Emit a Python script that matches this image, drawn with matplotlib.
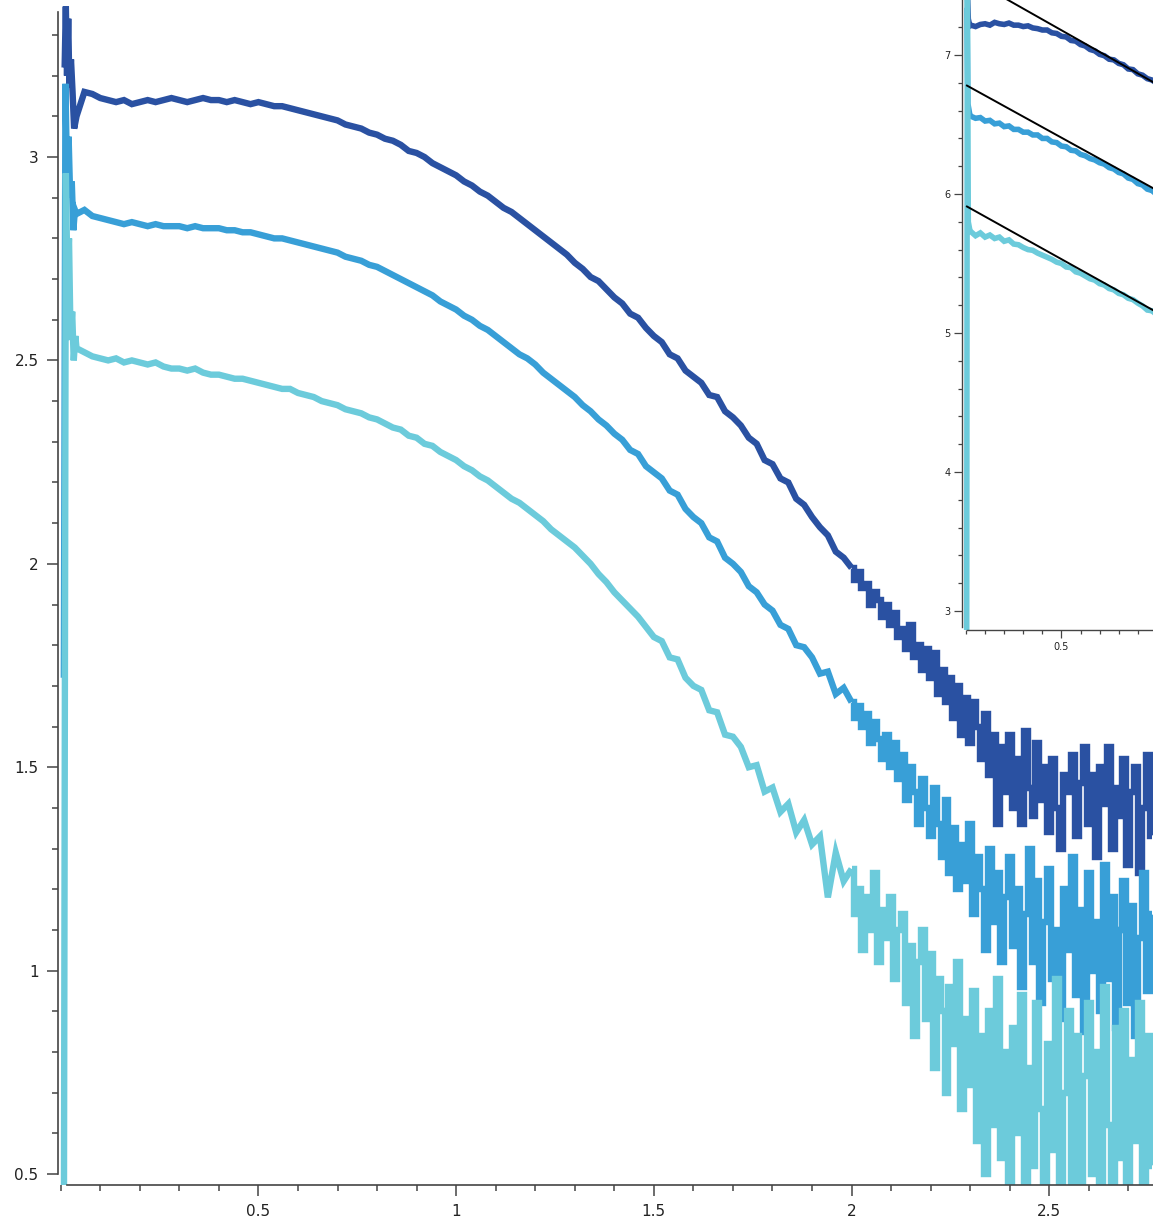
import numpy as np
import matplotlib
matplotlib.use("Agg")
import matplotlib.pyplot as plt
from matplotlib.ticker import MultipleLocator, FixedLocator, FixedFormatter

# ---------------- main plot data ----------------
dark_head_x = [0.010, 0.013, 0.016, 0.019, 0.022, 0.026, 0.030, 0.034]
dark_head_y = [3.22, 3.37, 3.20, 3.34, 3.17, 3.24, 3.16, 3.07]
medium_head_x = [0.008, 0.012, 0.016, 0.020, 0.024, 0.028, 0.032, 0.036]
medium_head_y = [1.72, 3.18, 2.95, 3.05, 2.90, 2.94, 2.82, 2.87]
light_head_x = [0.008, 0.013, 0.017, 0.021, 0.025, 0.029, 0.033, 0.037]
light_head_y = [0.30, 2.96, 2.70, 2.80, 2.55, 2.62, 2.50, 2.56]

# coarse sample grid 0.04 .. 1.98, fine sample grid 2.00 .. 2.76
grid1_x = np.round(np.arange(2, 100) * 0.02, 2)
grid2_x = np.round(np.arange(200, 277) * 0.01, 2)

dark_y1 = [
    3.10, 3.16, 3.155, 3.145, 3.14, 3.135, 3.14, 3.13, 3.135, 3.14,
    3.135, 3.14, 3.145, 3.14, 3.135, 3.14, 3.145, 3.14, 3.14, 3.135,
    3.14, 3.135, 3.13, 3.135, 3.13, 3.125, 3.125, 3.12, 3.115, 3.11,
    3.105, 3.10, 3.095, 3.09, 3.08, 3.075, 3.07, 3.06, 3.055, 3.045,
    3.04, 3.03, 3.015, 3.01, 3.0, 2.985, 2.975, 2.965, 2.955, 2.94,
    2.93, 2.915, 2.905, 2.89, 2.875, 2.865, 2.85, 2.835, 2.82, 2.805,
    2.79, 2.775, 2.76, 2.74, 2.725, 2.705, 2.695, 2.675, 2.655, 2.64,
    2.615, 2.605, 2.58, 2.56, 2.545, 2.515, 2.505, 2.475, 2.46, 2.445,
    2.415, 2.41, 2.375, 2.36, 2.34, 2.31, 2.295, 2.255, 2.245, 2.21,
    2.2, 2.16, 2.145, 2.115, 2.09, 2.07, 2.03, 2.015,
]
dark_y2 = [
    1.99, 1.96, 1.98, 1.94, 1.95, 1.90, 1.93, 1.91, 1.87, 1.90,
    1.85, 1.88, 1.82, 1.84, 1.79, 1.85, 1.77, 1.80, 1.74, 1.79,
    1.72, 1.78, 1.68, 1.74, 1.66, 1.72, 1.62, 1.70, 1.58, 1.67,
    1.56, 1.66, 1.60, 1.52, 1.63, 1.48, 1.58, 1.36, 1.55, 1.44,
    1.58, 1.40, 1.52, 1.36, 1.59, 1.45, 1.38, 1.56, 1.42, 1.50,
    1.34, 1.52, 1.40, 1.30, 1.48, 1.44, 1.53, 1.33, 1.46, 1.55,
    1.36, 1.48, 1.28, 1.50, 1.41, 1.55, 1.30, 1.45, 1.38, 1.52,
    1.26, 1.44, 1.50, 1.24, 1.40, 1.53, 1.33,
]

medium_y1 = [
    2.86, 2.87, 2.855, 2.85, 2.845, 2.84, 2.835, 2.84, 2.835, 2.83,
    2.835, 2.83, 2.83, 2.83, 2.825, 2.83, 2.825, 2.825, 2.825, 2.82,
    2.82, 2.815, 2.815, 2.81, 2.805, 2.80, 2.80, 2.795, 2.79, 2.785,
    2.78, 2.775, 2.77, 2.765, 2.755, 2.75, 2.745, 2.735, 2.73, 2.72,
    2.71, 2.70, 2.69, 2.68, 2.67, 2.66, 2.645, 2.635, 2.625, 2.61,
    2.60, 2.585, 2.575, 2.56, 2.545, 2.53, 2.515, 2.505, 2.49, 2.47,
    2.455, 2.44, 2.425, 2.41, 2.39, 2.375, 2.355, 2.34, 2.32, 2.305,
    2.28, 2.27, 2.24, 2.225, 2.21, 2.18, 2.17, 2.135, 2.115, 2.10,
    2.065, 2.055, 2.015, 2.0, 1.98, 1.945, 1.93, 1.90, 1.885, 1.85,
    1.84, 1.80, 1.795, 1.77, 1.73, 1.735, 1.68, 1.695,
]
medium_y2 = [
    1.66, 1.62, 1.65, 1.60, 1.63, 1.56, 1.61, 1.57, 1.52, 1.58,
    1.50, 1.56, 1.47, 1.53, 1.42, 1.50, 1.44, 1.36, 1.47, 1.40,
    1.33, 1.45, 1.36, 1.28, 1.42, 1.24, 1.35, 1.20, 1.31, 1.22,
    1.36, 1.14, 1.28, 1.20, 1.05, 1.30, 1.12, 1.24, 1.02, 1.18,
    1.28, 1.06, 1.20, 0.96, 1.14, 1.30, 1.02, 1.22, 0.92, 1.12,
    1.25, 0.98, 1.10, 0.88, 1.20, 1.05, 1.28, 0.94, 1.15, 0.85,
    1.24, 1.00, 1.12, 0.90, 1.26, 0.98, 1.18, 0.86, 1.10, 1.22,
    0.92, 1.16, 0.84, 1.08, 1.24, 0.95, 1.14,
]

light_y1 = [
    2.53, 2.52, 2.51, 2.505, 2.50, 2.505, 2.495, 2.50, 2.495, 2.49,
    2.495, 2.485, 2.48, 2.48, 2.475, 2.48, 2.47, 2.465, 2.465, 2.46,
    2.455, 2.455, 2.45, 2.445, 2.44, 2.435, 2.43, 2.43, 2.42, 2.415,
    2.41, 2.40, 2.395, 2.39, 2.38, 2.375, 2.37, 2.36, 2.355, 2.345,
    2.335, 2.33, 2.315, 2.31, 2.295, 2.29, 2.275, 2.265, 2.255, 2.24,
    2.23, 2.215, 2.205, 2.19, 2.175, 2.16, 2.15, 2.135, 2.12, 2.105,
    2.085, 2.07, 2.055, 2.04, 2.02, 2.0, 1.975, 1.955, 1.93, 1.91,
    1.89, 1.87, 1.845, 1.82, 1.81, 1.77, 1.765, 1.72, 1.70, 1.69,
    1.64, 1.635, 1.58, 1.575, 1.55, 1.50, 1.505, 1.44, 1.45, 1.39,
    1.41, 1.34, 1.37, 1.31, 1.33, 1.18, 1.29, 1.22,
]
light_y2 = [
    1.25, 1.14, 1.20, 1.05, 1.18, 1.10, 1.24, 1.02, 1.15, 1.08,
    1.18, 0.98, 1.10, 1.14, 0.92, 1.06, 0.84, 1.02, 1.10, 0.88,
    1.04, 0.76, 0.98, 0.90, 0.70, 0.96, 0.82, 1.02, 0.66, 0.88,
    0.72, 0.95, 0.58, 0.84, 0.50, 0.90, 0.62, 0.98, 0.54, 0.80,
    0.46, 0.86, 0.60, 0.94, 0.44, 0.76, 0.52, 0.92, 0.66, 0.45,
    0.82, 0.56, 0.98, 0.44, 0.70, 0.90, 0.48, 0.84, 0.42, 0.74,
    0.92, 0.50, 0.80, 0.44, 0.96, 0.62, 0.46, 0.86, 0.54, 0.90,
    0.44, 0.78, 0.58, 0.92, 0.46, 0.84, 0.52,
]

# ---------------- inset data ----------------
inset_grid_x = np.round(np.arange(1, 41) * 0.025, 3)
inset_dark_head_x = [0.004, 0.012, 0.02]
inset_dark_head_y = [7.60, 7.26, 7.21]
inset_medium_head_x = [0.005, 0.010, 0.02]
inset_medium_head_y = [7.32, 6.65, 6.57]
inset_light_head_x = [0.003, 0.007, 0.012, 0.02]
inset_light_head_y = [2.00, 7.60, 5.80, 5.74]
inset_dark_y = [
    7.215, 7.205, 7.22, 7.225, 7.215, 7.235, 7.225, 7.22, 7.23, 7.215,
    7.215, 7.205, 7.21, 7.195, 7.19, 7.18, 7.18, 7.16, 7.155, 7.135,
    7.13, 7.105, 7.10, 7.075, 7.065, 7.04, 7.03, 7.005, 6.995, 6.97,
    6.965, 6.94, 6.93, 6.90, 6.895, 6.865, 6.855, 6.83, 6.82, 6.795,
]
inset_medium_y = [
    6.56, 6.545, 6.55, 6.525, 6.53, 6.505, 6.51, 6.485, 6.49, 6.465,
    6.465, 6.445, 6.445, 6.425, 6.425, 6.40, 6.40, 6.375, 6.37, 6.345,
    6.34, 6.315, 6.31, 6.285, 6.275, 6.255, 6.245, 6.225, 6.215, 6.19,
    6.18, 6.155, 6.145, 6.115, 6.105, 6.075, 6.065, 6.035, 6.025, 5.995,
]
inset_light_y = [
    5.73, 5.70, 5.72, 5.69, 5.705, 5.68, 5.69, 5.66, 5.67, 5.64,
    5.635, 5.615, 5.60, 5.595, 5.575, 5.56, 5.545, 5.53, 5.51, 5.50,
    5.475, 5.47, 5.44, 5.43, 5.41, 5.39, 5.38, 5.355, 5.345, 5.32,
    5.31, 5.285, 5.275, 5.25, 5.24, 5.215, 5.195, 5.165, 5.16, 5.13,
]
fit_intercepts = [7.567, 6.784, 5.914]
fit_slopes = [-0.777, -0.757, -0.765]
fit_x_range = [0.005, 1.25]

main_xticks = [0.5, 1, 1.5, 2, 2.5]
main_xlabels = ["0.5", "1", "1.5", "2", "2.5"]
main_yticks = [0.5, 1, 1.5, 2, 2.5, 3]
main_ylabels = ["0.5", "1", "1.5", "2", "2.5", "3"]
inset_xticks = [0.5]
inset_xlabels = ["0.5"]
inset_yticks = [3, 4, 5, 6, 7]
inset_ylabels = ["3", "4", "5", "6", "7"]

C_DARK = "#2a51a2"
C_MED = "#389fd7"
C_LIGHT = "#6ccbdb"
AXC = "#444444"

W, H = 1153, 1225
fig = plt.figure(figsize=(W / 100, H / 100), dpi=100)

# main axes
ax = fig.add_axes([58 / W, (H - 1185) / H, (W - 58) / W, 1185 / H])
for c, hx, hy, y1, y2 in [(C_DARK, dark_head_x, dark_head_y, dark_y1, dark_y2),
                          (C_MED, medium_head_x, medium_head_y, medium_y1, medium_y2),
                          (C_LIGHT, light_head_x, light_head_y, light_y1, light_y2)]:
    # smoother part: plain polyline
    xs = np.concatenate([hx, grid1_x, grid2_x[:1]])
    ys = np.concatenate([hy, y1, y2[:1]])
    ax.plot(xs, ys, color=c, lw=4.6, solid_joinstyle="miter",
            solid_capstyle="butt")
    # dense noisy tail: blocky steps
    ax.plot(grid2_x, y2, color=c, lw=4.6, drawstyle="steps-mid",
            solid_joinstyle="miter", solid_capstyle="butt")

ax.set_xlim(-0.0068, 2.7622)
ax.set_ylim(0.473, 3.386)
for s in ["top", "right"]:
    ax.spines[s].set_visible(False)
ax.spines["left"].set_bounds(0.5, 3.356)
ax.spines["bottom"].set_bounds(0.016, 2.7622)
for s in ["left", "bottom"]:
    ax.spines[s].set_color(AXC)
    ax.spines[s].set_linewidth(1.2)
ax.xaxis.set_major_locator(FixedLocator(main_xticks))
ax.xaxis.set_major_formatter(FixedFormatter(main_xlabels))
ax.yaxis.set_major_locator(FixedLocator(main_yticks))
ax.yaxis.set_major_formatter(FixedFormatter(main_ylabels))
ax.xaxis.set_minor_locator(MultipleLocator(0.1))
ax.yaxis.set_minor_locator(MultipleLocator(0.1))
ax.tick_params(which="major", length=8, width=1.1, color=AXC, labelsize=11,
               labelcolor="#222222", pad=6)
ax.tick_params(which="minor", length=4.3, width=1.1, color=AXC)
ax.set_facecolor("none")

# inset axes
iw = (1195 - 962) / W
ax2 = fig.add_axes([962 / W, (H - 630) / H, iw, 630 / H])
ax2.set_facecolor("white")
for c, hx, hy, yy in [(C_DARK, inset_dark_head_x, inset_dark_head_y, inset_dark_y),
                      (C_MED, inset_medium_head_x, inset_medium_head_y, inset_medium_y),
                      (C_LIGHT, inset_light_head_x, inset_light_head_y, inset_light_y)]:
    xs = np.concatenate([hx, inset_grid_x])
    ys = np.concatenate([hy, yy])
    ax2.plot(xs, ys, color=c, lw=4.0, solid_joinstyle="miter")
fx = np.array(fit_x_range)
for a, b in zip(fit_intercepts, fit_slopes):
    ax2.plot(fx, a + b * fx, color="black", lw=1.4)
ax2.set_xlim(-0.021, 1.2)
ax2.set_ylim(2.863, 7.396)
for s in ["top", "right"]:
    ax2.spines[s].set_visible(False)
ax2.spines["left"].set_bounds(2.885, 7.396)
ax2.spines["bottom"].set_bounds(0.005, 1.2)
for s in ["left", "bottom"]:
    ax2.spines[s].set_color(AXC)
    ax2.spines[s].set_linewidth(1.0)
ax2.xaxis.set_major_locator(FixedLocator(inset_xticks))
ax2.xaxis.set_major_formatter(FixedFormatter(inset_xlabels))
ax2.yaxis.set_major_locator(FixedLocator(inset_yticks))
ax2.yaxis.set_major_formatter(FixedFormatter(inset_ylabels))
ax2.xaxis.set_minor_locator(MultipleLocator(0.1))
ax2.yaxis.set_minor_locator(MultipleLocator(0.2))
ax2.tick_params(which="major", length=5.5, width=0.9, color=AXC, labelsize=7,
                labelcolor="#222222", pad=3)
ax2.tick_params(which="minor", length=3, width=0.9, color=AXC)

fig.savefig("out.png", dpi=100)
